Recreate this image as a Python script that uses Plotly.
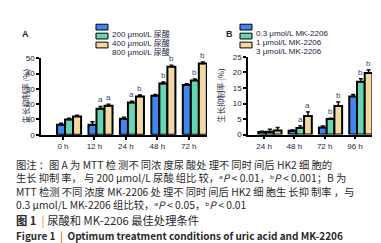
import plotly.graph_objects as go

W, H = 381, 243

# ---------------- data ----------------
times_a = ["0 h", "12 h", "24 h", "48 h", "72 h"]
series_a = ["200 μmol/L 尿酸", "400 μmol/L 尿酸", "800 μmol/L 尿酸"]
vals_a_200 = [6.5, 6.5, 10.5, 25.5, 32.5]
vals_a_400 = [10.0, 17.0, 21.0, 33.5, 35.5]
vals_a_800 = [12.0, 19.0, 25.0, 44.5, 46.5]
err_a_200 = [1.0, 2.0, 1.0, 0.8, 0.8]
err_a_400 = [0.8, 1.5, 1.0, 1.0, 1.0]
err_a_800 = [0.8, 1.0, 1.0, 1.0, 1.0]
sig_a_200 = ["", "", "", "", ""]
sig_a_400 = ["", "a", "a", "b", "b"]
sig_a_800 = ["", "a", "b", "b", "b"]
yticks_a = [0, 10, 20, 30, 40, 50]

times_b = ["24 h", "48 h", "72 h", "96 h"]
series_b = ["0.3 μmol/L MK-2206", "1 μmol/L MK-2206", "3 μmol/L MK-2206"]
vals_b_03 = [0.8, 1.2, 2.3, 12.3]
vals_b_1 = [0.9, 2.1, 5.0, 17.0]
vals_b_3 = [1.3, 6.0, 9.2, 19.8]
err_b_03 = [0.3, 0.3, 0.5, 0.6]
err_b_1 = [0.8, 0.7, 0.3, 1.0]
err_b_3 = [1.0, 1.3, 1.3, 1.0]
sig_b_03 = ["", "", "", ""]
sig_b_1 = ["", "a", "b", "b"]
sig_b_3 = ["", "a", "b", "b"]
yticks_b = [0, 5, 10, 15, 20, 25]

# ---------------- style ----------------
colors = ["#3f86ee", "#66d6b0", "#f0d9a2"]
ink = "#1c2440"
sigc = "#2c4a86"
fontfam = "Liberation Sans, Arial, Noto Sans CJK SC"
cjk = "Noto Sans CJK SC, Noto Sans"

def px(x):
    return x / W

def py(y):
    return 1 - y / H

barw = 0.255
offs = [-0.19, -0.19 + barw, -0.19 + 2 * barw]

fig = go.Figure()
annotations = []

def add_panel(vals, errs, sigs, names, xa, ya, cats):
    for k in range(3):
        xs = list(range(len(cats)))
        fig.add_trace(go.Bar(
            x=xs, y=vals[k], name=names[k], xaxis=xa, yaxis=ya,
            width=barw, offset=offs[k],
            marker=dict(color=colors[k], line=dict(color="black", width=2)),
            error_y=dict(type="data", array=errs[k], arrayminus=[0] * len(cats),
                         symmetric=False, color="black", thickness=1.4, width=2),
            showlegend=False,
        ))
        for i, s in enumerate(sigs[k]):
            if s:
                annotations.append(dict(
                    x=i + offs[k] + barw / 2, y=vals[k][i] + errs[k][i],
                    xref=xa, yref=ya, text=s, showarrow=False,
                    yanchor="bottom", yshift=0,
                    font=dict(family=fontfam, size=8, color=sigc)))

add_panel([vals_a_200, vals_a_400, vals_a_800], [err_a_200, err_a_400, err_a_800],
          [sig_a_200, sig_a_400, sig_a_800], series_a, "x", "y", times_a)
add_panel([vals_b_03, vals_b_1, vals_b_3], [err_b_03, err_b_1, err_b_3],
          [sig_b_03, sig_b_1, sig_b_3], series_b, "x2", "y2", times_b)

axis_common = dict(showline=True, linecolor="black", linewidth=1.5, ticks="outside",
                   ticklen=3, tickwidth=1.5, tickcolor="black", showgrid=False,
                   zeroline=False, tickfont=dict(family=fontfam, size=8, color=ink))

fig.update_layout(
    width=W, height=H, margin=dict(l=0, r=0, t=0, b=0),
    paper_bgcolor="white", plot_bgcolor="white", barmode="overlay",
    xaxis=dict(domain=[px(33), px(199)], range=[-0.70, 4.58], tickvals=list(range(5)),
               ticktext=times_a, anchor="y", **axis_common),
    yaxis=dict(domain=[py(127.5), py(48)], range=[0, 50], tickvals=yticks_a,
               anchor="x", **axis_common),
    xaxis2=dict(domain=[px(240), px(364)], range=[-0.53, 3.56], tickvals=list(range(4)),
                ticktext=times_b, anchor="y2", **axis_common),
    yaxis2=dict(domain=[py(127.3), py(46.7)], range=[0, 25], tickvals=yticks_b,
                anchor="x2", **axis_common),
)

# panel letters
annotations.append(dict(x=px(12), y=py(15.7), xref="paper", yref="paper", text="<b>A</b>",
                        showarrow=False, xanchor="left", font=dict(family=fontfam, size=9, color=ink)))
annotations.append(dict(x=px(216), y=py(15.7), xref="paper", yref="paper", text="<b>B</b>",
                        showarrow=False, xanchor="left", font=dict(family=fontfam, size=9, color=ink)))

# legends (manual)
shapes = []
def legend(x0, names):
    rows = [15.7, 25.0, 34.3]
    for k in range(3):
        shapes.append(dict(type="rect", xref="paper", yref="paper",
                           x0=px(x0), x1=px(x0 + 12), y0=py(rows[k] + 3), y1=py(rows[k] - 3),
                           fillcolor=colors[k], line=dict(color="black", width=1)))
        annotations.append(dict(x=px(x0 + 14), y=py(rows[k]), xref="paper", yref="paper",
                                text=names[k], showarrow=False, xanchor="left",
                                font=dict(family=fontfam, size=8, color=ink)))
legend(88, series_a)
legend(232, series_b)

# y titles
for xx in (10, 213):
    annotations.append(dict(x=px(xx), y=py(87), xref="paper", yref="paper",
                            text="生长抑制率 (%)", textangle=-90, showarrow=False,
                            font=dict(family=cjk, size=8, color=ink)))

# caption (justified with thin spaces between CJK characters)
orange = "#e8782a"
THIN = "\u2009"
SUPA = "\u1d43"
SUPB = "\u1d47"

def is_cjk(c):
    return ord(c) >= 0x3000

def spread(t, step):
    out = ""
    n = 0
    for i, c in enumerate(t):
        out += c
        if i + 1 < len(t) and is_cjk(c) and is_cjk(t[i + 1]):
            n += 1
            if n % step == 0:
                out += THIN
    return out

cap_lines = [
    spread("图注：图 A 为 MTT 检测不同浓度尿酸处理不同时间后 HK2 细胞的", 2),
    spread("生长抑制率，与 200 μmol/L 尿酸组比较，", 2)
    + SUPA + "<i>P</i> &lt; 0.01，" + SUPB + "<i>P</i> &lt; 0.001；B 为",
    spread("MTT 检测不同浓度 MK-2206 处理不同时间后 HK2 细胞生长抑制率，与", 2),
    "0.3 μmol/L MK-2206 组比较，" + SUPA + "<i>P</i> &lt; 0.05，" + SUPB + "<i>P</i> &lt; 0.01",
]
annotations.append(dict(x=px(6), y=py(179.3), xref="paper", yref="paper",
                        text="<br>".join(cap_lines), align="left",
                        showarrow=False, xanchor="left", yanchor="middle",
                        font=dict(family=cjk, size=10.3, color="#2a2a2a")))

annotations.append(dict(x=px(6), y=py(216), xref="paper", yref="paper",
                        text="<b>图 1</b>  <span style='color:%s'>|</span> 尿酸和 MK-2206 最佳处理条件" % orange,
                        showarrow=False, xanchor="left", yanchor="middle",
                        font=dict(family=cjk, size=11.3, color="#2a2a2a")))
annotations.append(dict(x=px(6), y=py(232), xref="paper", yref="paper",
                        text="<b>Figure 1  <span style='color:%s'>|</span>  Optimum treatment conditions of uric acid and MK-2206</b>" % orange,
                        showarrow=False, xanchor="left", yanchor="middle",
                        font=dict(family=cjk, size=10, color="#2a2a2a")))

fig.update_layout(annotations=annotations, shapes=shapes)
fig.write_html("out.html")
